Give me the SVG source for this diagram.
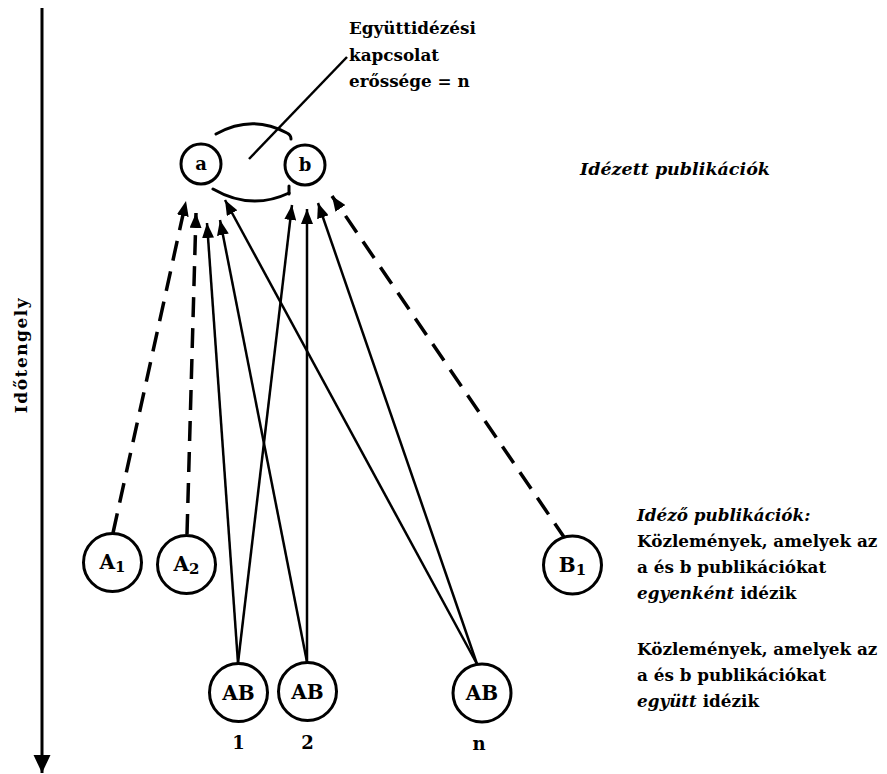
<svg xmlns="http://www.w3.org/2000/svg" width="887" height="774" viewBox="0 0 887 774">
<style>
  text { font-family: "DejaVu Serif", "Liberation Serif", serif; font-weight: bold; fill: #000; }
  .it { font-style: italic; }
  .node circle { fill: #fff; stroke: #000; stroke-width: 3; }
  .lbl { font-size: 20px; text-anchor: middle; }
  .sm { font-size: 18px; }
  .sub { font-size: 15px; }
  .txt { font-size: 16.8px; }
  .big { font-size: 17.5px; }
  .solid { stroke: #000; stroke-width: 2.5; fill: none; }
  .dash { stroke: #000; stroke-width: 3.5; fill: none; stroke-dasharray: 20 11; }
  .arc { stroke: #000; stroke-width: 3; fill: none; stroke-linecap: round; }
</style>
<defs>
  <marker id="ah" markerUnits="userSpaceOnUse" markerWidth="16" markerHeight="12" refX="15" refY="6" orient="auto">
    <path d="M0,0 L15,6 L0,12 z" fill="#000"/>
  </marker>
  <marker id="axh" markerUnits="userSpaceOnUse" markerWidth="20" markerHeight="18" refX="18" refY="8.5" orient="auto">
    <path d="M0,0 L18,8.5 L0,17 z" fill="#000"/>
  </marker>
</defs>
<rect width="887" height="774" fill="#fff"/>

<g id="time-axis">
  <line x1="42" y1="8" x2="42" y2="773" stroke="#000" stroke-width="3" marker-end="url(#axh)"/>
  <text transform="translate(27,355) rotate(-90)" text-anchor="middle" font-size="17" letter-spacing="1.5">Időtengely</text>
</g>

<g id="connectors">
  <path class="dash" d="M113,533 L186,201" marker-end="url(#ah)"/>
  <path class="dash" d="M187,534 L196,213" marker-end="url(#ah)"/>
  <path class="solid" d="M238,663 L207,223" marker-end="url(#ah)"/>
  <path class="solid" d="M238,663 L292,205" marker-end="url(#ah)"/>
  <path class="solid" d="M307,662 L220,220" marker-end="url(#ah)"/>
  <path class="solid" d="M307,662 L307,209" marker-end="url(#ah)"/>
  <path class="solid" d="M477,664 L225,200" marker-end="url(#ah)"/>
  <path class="solid" d="M477,664 L318,203" marker-end="url(#ah)"/>
  <path class="dash" d="M566,540 L332,196" marker-end="url(#ah)"/>
</g>

<g id="cocitation-link">
  <path class="arc" d="M216,134 Q252,114 287,133 Q291,135 291,139"/>
  <path class="arc" d="M213,189 Q251,211 289,193"/>
  <path class="arc" d="M289,186 L289,194"/>
  <line x1="249" y1="159" x2="347" y2="57" stroke="#000" stroke-width="2.5"/>
  <text class="txt" x="349" y="34">Együttidézési</text>
  <text class="txt" x="349" y="61">kapcsolat</text>
  <text class="txt" x="349" y="87">erőssége = n</text>
</g>

<g id="node-a" class="node"><circle cx="201" cy="164" r="20"/><text class="lbl sm" x="201" y="170">a</text></g>
<g id="node-b" class="node"><circle cx="305" cy="165" r="20"/><text class="lbl sm" x="305" y="171">b</text></g>

<g id="node-A1" class="node"><circle cx="112.5" cy="562.5" r="29"/><text class="lbl" x="112.5" y="569">A<tspan class="sub" dy="3">1</tspan></text></g>
<g id="node-A2" class="node"><circle cx="186.5" cy="564.5" r="29"/><text class="lbl" x="186.5" y="571">A<tspan class="sub" dy="3">2</tspan></text></g>
<g id="node-B1" class="node"><circle cx="572.5" cy="565" r="29"/><text class="lbl" x="572.5" y="571.5">B<tspan class="sub" dy="3">1</tspan></text></g>

<g id="node-AB1" class="node"><circle cx="238.5" cy="692.5" r="29"/><text class="lbl" x="238.5" y="699.5">AB</text><text class="lbl sm" x="238.5" y="749">1</text></g>
<g id="node-AB2" class="node"><circle cx="307.5" cy="691.5" r="29"/><text class="lbl" x="307.5" y="698.5">AB</text><text class="lbl sm" x="307.5" y="749">2</text></g>
<g id="node-ABn" class="node"><circle cx="482" cy="693" r="29"/><text class="lbl" x="482" y="700">AB</text><text class="lbl sm" x="479" y="750">n</text></g>

<g id="legend">
  <text class="txt big it" x="580" y="175">Idézett publikációk</text>
  <text class="txt it" x="637" y="521">Idéző publikációk:</text>
  <text class="txt" x="637" y="547">Közlemények, amelyek az</text>
  <text class="txt" x="637" y="573">a és b publikációkat</text>
  <text class="txt" x="637" y="599"><tspan class="it">egyenként</tspan> idézik</text>
  <text class="txt" x="637" y="655">Közlemények, amelyek az</text>
  <text class="txt" x="637" y="681">a és b publikációkat</text>
  <text class="txt" x="637" y="707"><tspan class="it">együtt</tspan> idézik</text>
</g>
</svg>
